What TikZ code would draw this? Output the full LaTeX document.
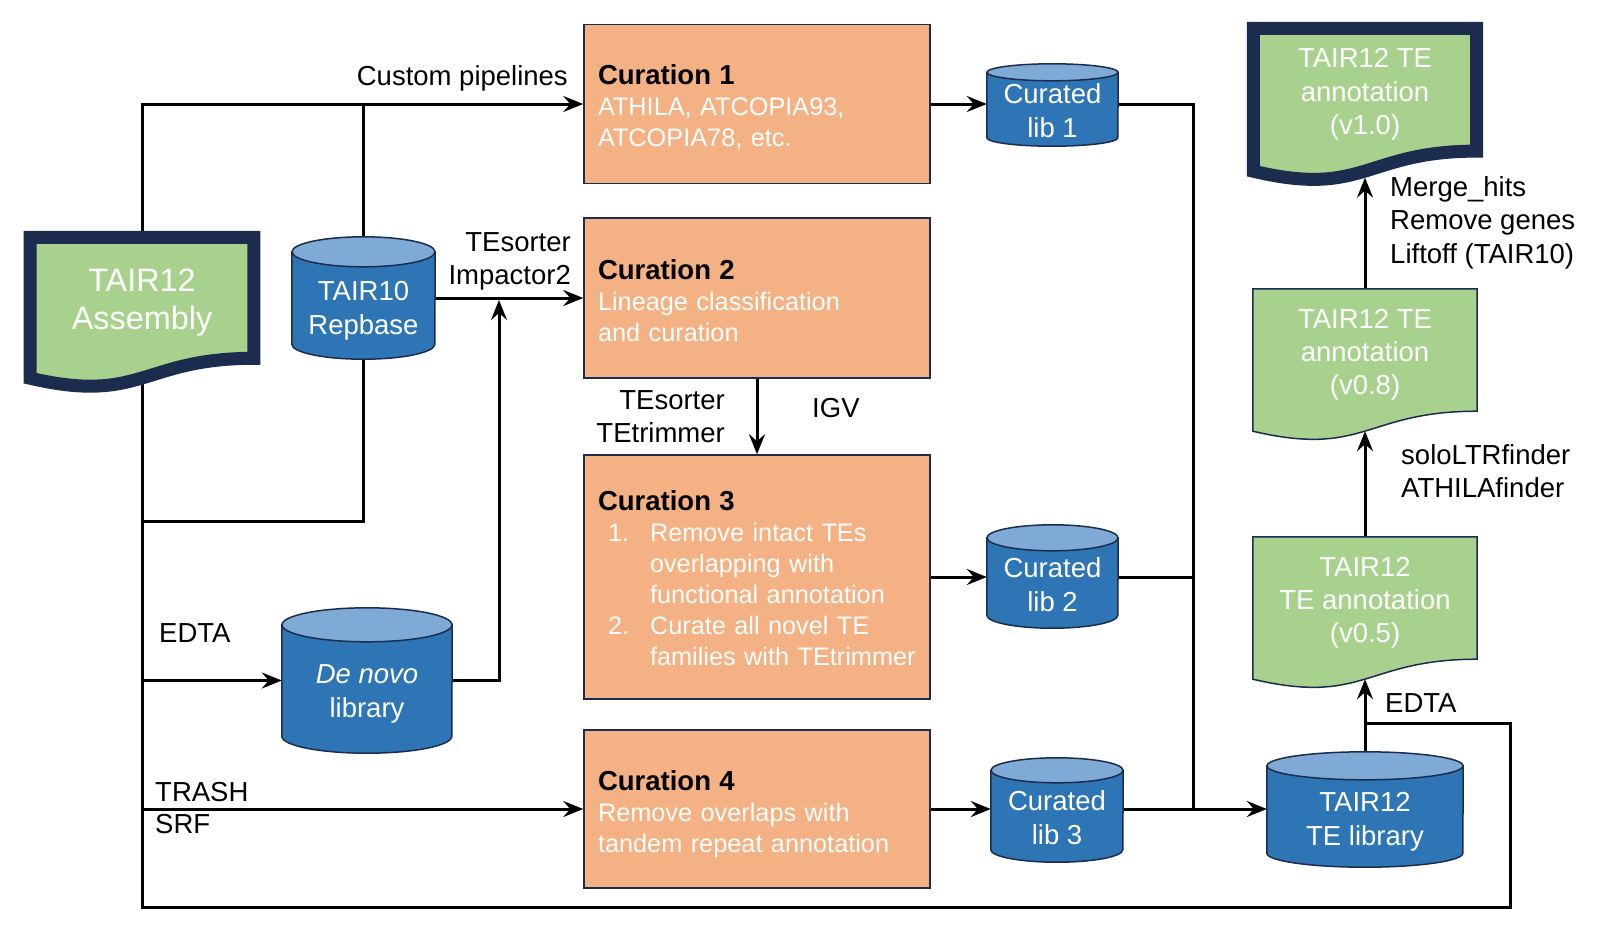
\documentclass[tikz,border=0pt]{standalone}
\usepackage{fontspec}
\setmainfont{Liberation Sans}
\usetikzlibrary{arrows.meta,calc}
\pgfdeclarelayer{lines}
\pgfdeclarelayer{shapes}
\pgfsetlayers{lines,shapes,main}

\definecolor{navy}{HTML}{1C2C4E}
\definecolor{orangebox}{HTML}{F4B183}
\definecolor{greendoc}{HTML}{A9D18E}
\definecolor{cylbody}{HTML}{2E75B6}
\definecolor{cyltop}{HTML}{7FAAD6}

\newcommand\curhead[1]{{\fontsize{27.5}{31}\selectfont\bfseries\color{black}#1}}
\newcommand\topstrut[1]{\rule{0pt}{#1}}

\newcommand\drawcyl[3]{%
  \begin{pgfonlayer}{shapes}
  \draw[cylline, fill=cylbody] (#1.north west) -- ([yshift=#3]#1.south west)
     arc[start angle=180,end angle=360,x radius=#2,y radius=#3] -- (#1.north east) -- cycle;
  \draw[cylline, fill=cyltop] (#1.north) ellipse[x radius=#2,y radius=#3];
  \end{pgfonlayer}}

\newcommand\drawdoc[4]{%
  \begin{pgfonlayer}{shapes}
  \draw[#4] (#1.north west) -- (#1.north east) -- (#1.south east)
     .. controls (#1.south) and ([yshift=-#3]#1.south) .. ([yshift=-#2]#1.south west) -- cycle;
  \end{pgfonlayer}}

\begin{document}
\begin{tikzpicture}[x=1pt,y=-1pt,
  cur/.style={draw=navy, line width=1.5pt, fill=orangebox, text=white, text width=318pt,
    inner xsep=14pt, inner ysep=0pt, align=left, font=\fontsize{25.3}{31}\selectfont},
  cyl/.style={inner sep=0pt, text=white, align=center, font=\fontsize{27.5}{34}\selectfont},
  doc/.style={inner sep=0pt, text=white, align=center, font=\fontsize{27.5}{33.3}\selectfont},
  lbl/.style={inner sep=0pt, font=\fontsize{27.5}{33.5}\selectfont},
  cylline/.style={draw=navy, line width=1.5pt},
  thickdoc/.style={draw=navy, line width=13pt, fill=greendoc, line join=miter},
  thindoc/.style={draw=navy, line width=1.5pt, fill=greendoc},
  conn/.style={draw=black, line width=3pt},
  arr/.style={conn, -{Stealth[length=20pt,width=16pt,inset=7pt]}},
]
\useasboundingbox (0,0) rectangle (1600,930);

% curation boxes
\node[cur, minimum height=159pt] (cur1) at (757,104) {\topstrut{25.3pt}\curhead{Curation 1}\\ATHILA, ATCOPIA93,\\ATCOPIA78, etc.};
\node[cur, minimum height=160pt] (cur2) at (757,298) {\topstrut{25.3pt}\curhead{Curation 2}\\Lineage classification\\and curation};
\node[cur, minimum height=244pt] (cur3) at (757,577) {\topstrut{22.3pt}\curhead{Curation 3}\\\hspace*{10pt}\makebox[42pt][l]{1.}Remove intact TEs\\\hspace*{52pt}overlapping with\\\hspace*{52pt}functional annotation\\\hspace*{10pt}\makebox[42pt][l]{2.}Curate all novel TE\\\hspace*{52pt}families with TEtrimmer};
\node[cur, minimum height=158pt] (cur4) at (757,809) {\topstrut{29.3pt}\curhead{Curation 4}\\Remove overlaps with\\tandem repeat annotation};

% cylinders
\node[cyl, minimum width=143pt, minimum height=107pt] (repbase) at (363.5,305.5) {\topstrut{28.7pt}TAIR10\\Repbase};
\node[cyl, minimum width=131pt, minimum height=73.5pt] (lib1) at (1052.5,109.25) {\topstrut{23pt}Curated\\lib 1};
\node[cyl, minimum width=131pt, minimum height=90pt] (lib2) at (1052.5,583) {\topstrut{23pt}Curated\\lib 2};
\node[cyl, minimum width=132pt, minimum height=91.5pt] (lib3) at (1057,816.25) {\topstrut{23pt}Curated\\lib 3};
\node[cyl, minimum width=170pt, minimum height=128pt] (denovo) at (367,689) {\topstrut{27.7pt}\textit{De novo}\\library};
\node[cyl, minimum width=196pt, minimum height=101pt] (telib) at (1365,816.5) {\topstrut{28.7pt}TAIR12\\TE library};

% documents
\node[doc, font=\fontsize{32.4}{38}\selectfont, minimum width=223.5pt, minimum height=120.6pt] (asm) at (142,297.8) {\topstrut{31.2pt}TAIR12\\Assembly};
\node[doc, minimum width=223pt, minimum height=122.4pt] (v10) at (1365,89.7) {\topstrut{28.5pt}TAIR12 TE\\annotation\\(v1.0)};
\node[doc, minimum width=224pt, minimum height=122pt] (v08) at (1365,350) {\topstrut{28.5pt}TAIR12 TE\\annotation\\(v0.8)};
\node[doc, minimum width=224pt, minimum height=122pt] (v05) at (1365,598) {\topstrut{28.5pt}TAIR12\\TE annotation\\(v0.5)};

\drawcyl{repbase}{71.5pt}{15pt}
\drawcyl{lib1}{65.5pt}{8.5pt}
\drawcyl{lib2}{65.5pt}{13pt}
\drawcyl{lib3}{66pt}{12.5pt}
\drawcyl{denovo}{85pt}{17pt}
\drawcyl{telib}{98pt}{14pt}
\drawdoc{asm}{19.9pt}{45.9pt}{thickdoc}
\drawdoc{v10}{20.1pt}{46.6pt}{thickdoc}
\drawdoc{v08}{20pt}{46.4pt}{thindoc}
\drawdoc{v05}{20pt}{46.4pt}{thindoc}

% labels
\node[lbl, anchor=east] (lcustom) at (568,78.5) {Custom pipelines};
\node[lbl, anchor=east, align=right] (limp) at (571,261.5) {TEsorter\\Impactor2};
\node[lbl, anchor=east, align=right] (ltrim) at (725,416.5) {TEsorter\\TEtrimmer};
\node[lbl, anchor=west] (ligv) at (812,408) {IGV};
\node[lbl, anchor=west] (ledta1) at (159,633) {EDTA};
\node[lbl, anchor=west, align=left, font=\fontsize{27.5}{32}\selectfont] (ltrash) at (155,808) {TRASH\\SRF};
\node[lbl, anchor=west] (ledta2) at (1385,703) {EDTA};
\node[lbl, anchor=west, align=left] (lsolo) at (1401,471) {soloLTRfinder\\ATHILAfinder};
\node[lbl, anchor=west, align=left] (lmerge) at (1390,222.5) {Merge\_hits\\Remove genes\\Liftoff (TAIR10)};

% connectors
\begin{pgfonlayer}{lines}
\fill[white] (0,0) rectangle (1600,930);
\coordinate (dn) at ([yshift=8.5pt]denovo.east);
\coordinate (dnw) at ([yshift=8.5pt]denovo.west);
\coordinate (j1) at (499,300);
\coordinate (rb) at (142,521);
\coordinate (lr) at (1510,907);
\coordinate (lt) at (1510,723);
\coordinate (vx) at (1193,809);
\draw[arr] (asm.north) |- (cur1.west);
\draw[conn] (repbase.north) -- (repbase.north |- cur1.west);
\draw[arr] (repbase.east |- cur2.west) -- (cur2.west);
\draw[arr] (dn) -| (j1);
\draw[conn] (repbase.south) |- (rb);
\draw[conn] (asm.south) |- (lr) -- (lt) -- (lt -| telib.north);
\draw[arr] (dnw -| asm.south) -- (dnw);
\draw[arr] (cur4.west -| asm.south) -- (cur4.west);
\draw[arr] (cur1.east) -- (cur1.east -| lib1.west);
\draw[conn] (cur1.east -| lib1.east) -| (vx);
\draw[arr] (cur3.east) -- (cur3.east -| lib2.west);
\draw[conn] (cur3.east -| lib2.east) -- (cur3.east -| vx);
\draw[arr] (cur4.east) -- (cur4.east -| lib3.west);
\draw[arr] (cur4.east -| lib3.east) -- (cur4.east -| telib.west);
\draw[arr] (cur2.south) -- (cur3.north);
\draw[arr] (telib.north) -- ([yshift=-20pt]v05.south);
\draw[arr] (v05.north) -- ([yshift=-20pt]v08.south);
\draw[arr] (v08.north) -- ([yshift=-26.5pt]v10.south);
\end{pgfonlayer}
\end{tikzpicture}
\end{document}
